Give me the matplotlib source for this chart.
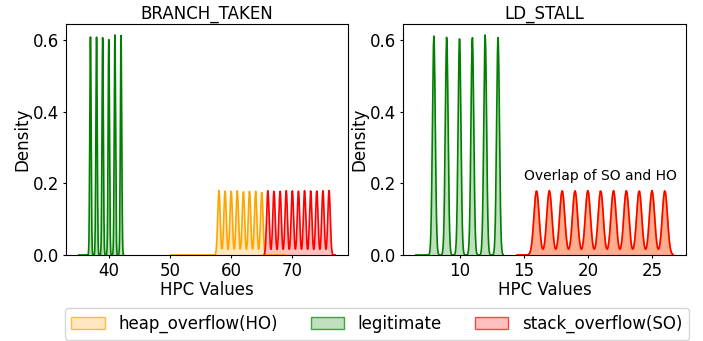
import matplotlib.pyplot as plt
import matplotlib.colors as mcolors
import numpy as np

# HPC counter values (peak positions) and peak heights
branch_legit_x = [37, 38, 39, 40, 41, 42]
branch_legit_h = [0.610, 0.608, 0.610, 0.607, 0.615, 0.613]
branch_ho_x = [58, 59, 60, 61, 62, 63, 64, 65]
branch_ho_h = [0.180, 0.180, 0.180, 0.179, 0.179, 0.179, 0.178, 0.178]
branch_so_x = [66, 67, 68, 69, 70, 71, 72, 73, 74, 75, 76]
branch_so_h = [0.180, 0.179, 0.179, 0.180, 0.179, 0.178, 0.180, 0.180, 0.180, 0.180, 0.180]

ld_legit_x = [8, 9, 10, 11, 12, 13]
ld_legit_h = [0.612, 0.610, 0.611, 0.609, 0.615, 0.610]
ld_ho_x = [16, 17, 18, 19, 20, 21, 22, 23, 24, 25, 26]
ld_ho_h = [0.180] * 11
ld_so_x = [16, 17, 18, 19, 20, 21, 22, 23, 24, 25, 26]
ld_so_h = [0.180] * 11

# support of each density curve (where the curve was evaluated)
branch_legit_span = [35.1, 42.4]
branch_ho_span = [50.1, 68.8]
branch_so_span = [65.4, 77.0]
ld_legit_span = [6.6, 13.4]
ld_ho_span = [14.5, 26.65]
ld_so_span = [14.5, 26.65]

labels = ["heap_overflow(HO)", "legitimate", "stack_overflow(SO)"]
colors = ["orange", "green", "red"]


def density(xs, hs, span, bw):
    grid = np.linspace(span[0], span[1], 200)
    y = np.zeros_like(grid)
    for x0, h in zip(xs, hs):
        y += h * np.exp(-0.5 * ((grid - x0) / bw) ** 2)
    return grid, y


def draw(ax, series, title):
    ymax = 0
    for (xs, hs, span, bw), c, lab in zip(series, colors, labels):
        g, y = density(xs, hs, span, bw)
        ax.fill_between(g, 0, y, color=c, alpha=0.25, linewidth=0, label=lab)
        ax.plot(g, y, color=c, linewidth=1.2)
        ymax = max(ymax, y.max())
    ax.set_ylim(0, ymax * 1.05)
    ax.set_title(title, fontsize=12, pad=4)
    ax.set_xlabel("HPC Values", fontsize=12, labelpad=1)
    ax.set_ylabel("Density", fontsize=12, labelpad=1)
    ax.tick_params(labelsize=12, length=2.5, pad=2.5)


fig = plt.figure(figsize=(7.03, 3.41), dpi=100)
ax1 = fig.add_axes([0.0939, 0.2522, 0.4011, 0.6774])
ax2 = fig.add_axes([0.5733, 0.2522, 0.4026, 0.6774])

draw(ax1, [(branch_ho_x, branch_ho_h, branch_ho_span, 0.2),
           (branch_legit_x, branch_legit_h, branch_legit_span, 0.11),
           (branch_so_x, branch_so_h, branch_so_span, 0.2)], "BRANCH_TAKEN")
draw(ax2, [(ld_ho_x, ld_ho_h, ld_ho_span, 0.2),
           (ld_legit_x, ld_legit_h, ld_legit_span, 0.11),
           (ld_so_x, ld_so_h, ld_so_span, 0.2)], "LD_STALL")
ax2.text(21, 0.2, "Overlap of SO and HO", ha="center", va="bottom", fontsize=10)

handles = [plt.Rectangle((0, 0), 1, 1, facecolor=(*mcolors.to_rgb(c), 0.25),
                         edgecolor=(*mcolors.to_rgb(c), 0.7)) for c in colors]
fig.legend(handles, labels, loc="lower center", ncol=3, fontsize=12,
           bbox_to_anchor=(0.536, 0.004), borderaxespad=0)

plt.savefig("out.png")
